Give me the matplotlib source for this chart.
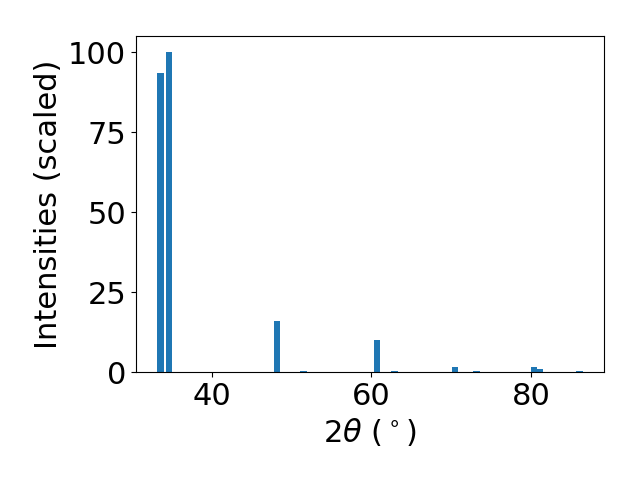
import matplotlib
matplotlib.use('Agg')
import matplotlib.pyplot as plt

# peak positions (2theta) and scaled intensities
two_theta = [33.6, 34.7, 48.2, 51.5, 60.7, 62.9, 70.5, 73.2, 80.4, 81.1, 86.1]
intensity = [93.5, 100.0, 16.0, 0.3, 10.0, 0.3, 1.6, 0.3, 1.6, 0.9, 0.3]

plt.rcParams['font.size'] = 22

fig, ax = plt.subplots(figsize=(6.4, 4.8), dpi=100)
ax.bar(two_theta, intensity, width=0.8)
ax.set_xlabel(r'$2\theta$ ($^\circ$)')
ax.set_ylabel('Intensities (scaled)')
ax.set_yticks([0, 25, 50, 75, 100])
fig.subplots_adjust(left=0.2125, right=0.944, top=0.925, bottom=0.225)
fig.savefig('out.png')
